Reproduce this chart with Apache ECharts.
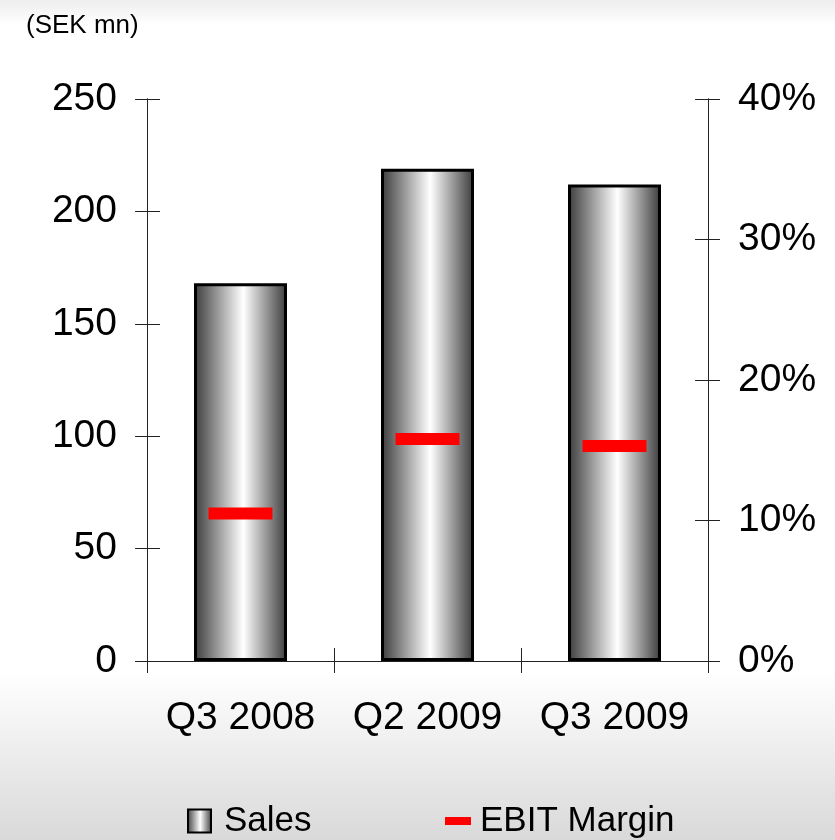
<!DOCTYPE html>
<html>
<head>
<meta charset="utf-8">
<script src="https://cdn.jsdelivr.net/npm/echarts@6/dist/echarts.min.js"></script>
<style>
  html, body { margin: 0; padding: 0; }
  #chart { width: 835px; height: 840px; }
</style>
</head>
<body>
<div id="chart"></div>
<script>
// Quarterly sales (SEK mn) and EBIT margin (%)
const categories = ['Q3 2008', 'Q2 2009', 'Q3 2009'];
const sales = [168, 219, 212];
const ebitMargin = [10.5, 15.8, 15.3];
const salesTicks = { min: 0, max: 250, interval: 50 };
const marginTicks = { min: 0, max: 40, interval: 10 };

const FONT = "'Liberation Sans', Arial, sans-serif";
const AXIS_COLOR = '#222';

const chart = echarts.init(document.getElementById('chart'), null, { renderer: 'canvas' });

const barFill = new echarts.graphic.LinearGradient(0, 0, 1, 0, [
  { offset: 0, color: '#3a3a3a' },
  { offset: 0.53, color: '#ffffff' },
  { offset: 1, color: '#3a3a3a' }
]);

// Value axis builder; a pair of axes (outside + inside ticks) gives crossing tick marks
function valueAxis(position, ticks, inside, showLabel, formatter) {
  return {
    type: 'value',
    position: position,
    min: ticks.min,
    max: ticks.max,
    interval: ticks.interval,
    splitLine: { show: false },
    axisLine: { show: true, lineStyle: { color: AXIS_COLOR, width: 1 } },
    axisTick: { show: true, inside: inside, length: inside ? 13 : 12, lineStyle: { color: AXIS_COLOR, width: 1 } },
    axisLabel: {
      show: showLabel,
      margin: 30,
      fontFamily: FONT,
      fontSize: 39,
      color: '#000',
      formatter: formatter
    }
  };
}

function categoryAxis(inside, showLabel) {
  return {
    type: 'category',
    data: categories,
    position: 'bottom',
    axisLine: { show: true, lineStyle: { color: AXIS_COLOR, width: 1 } },
    axisTick: { show: true, interval: 0, inside: inside, length: inside ? 13 : 12, lineStyle: { color: AXIS_COLOR, width: 1 } },
    axisLabel: {
      show: showLabel,
      interval: 0,
      hideOverlap: false,
      margin: 38,
      fontFamily: FONT,
      fontSize: 39,
      color: '#000'
    }
  };
}

const option = {
  animation: false,
  backgroundColor: new echarts.graphic.LinearGradient(0, 0, 0, 1, [
    { offset: 0, color: '#eeeeee' },
    { offset: 0.03, color: '#ffffff' },
    { offset: 0.8, color: '#ffffff' },
    { offset: 1, color: '#d9d9d9' }
  ]),
  title: {
    text: '(SEK mn)',
    left: 21,
    top: 8,
    textStyle: { fontFamily: FONT, fontSize: 26, fontWeight: 'normal', color: '#000' }
  },
  grid: { left: 147, right: 127, top: 99, bottom: 179 },
  legend: [
    {
      data: [{ name: 'Sales', icon: 'rect' }],
      left: 182,
      top: 796,
      itemWidth: 23,
      itemHeight: 23,
      textStyle: { fontFamily: FONT, fontSize: 35, color: '#000', lineHeight: 40, padding: [0, 0, 0, 8] }
    },
    {
      data: [{ name: 'EBIT Margin', icon: 'rect' }],
      left: 440,
      top: 796,
      itemWidth: 26,
      itemHeight: 8,
      itemStyle: { color: '#ff0000', opacity: 1 },
      textStyle: { fontFamily: FONT, fontSize: 35, color: '#000', lineHeight: 40, padding: [0, 0, 0, 4] }
    }
  ],
  xAxis: [categoryAxis(false, true), categoryAxis(true, false)],
  yAxis: [
    valueAxis('left', salesTicks, false, true, '{value}'),
    valueAxis('left', salesTicks, true, false, '{value}'),
    valueAxis('right', marginTicks, false, true, '{value}%'),
    valueAxis('right', marginTicks, true, false, '{value}%')
  ],
  series: [
    {
      name: 'Sales',
      type: 'bar',
      data: sales,
      xAxisIndex: 0,
      yAxisIndex: 0,
      barWidth: 93,
      itemStyle: { color: barFill, borderColor: '#000', borderWidth: 3 }
    },
    {
      name: 'EBIT Margin',
      type: 'scatter',
      data: ebitMargin,
      xAxisIndex: 0,
      yAxisIndex: 2,
      symbol: 'rect',
      symbolSize: [64, 12],
      itemStyle: { color: '#ff0000', opacity: 1 },
      z: 5
    }
  ]
};

chart.setOption(option);
</script>
</body>
</html>
